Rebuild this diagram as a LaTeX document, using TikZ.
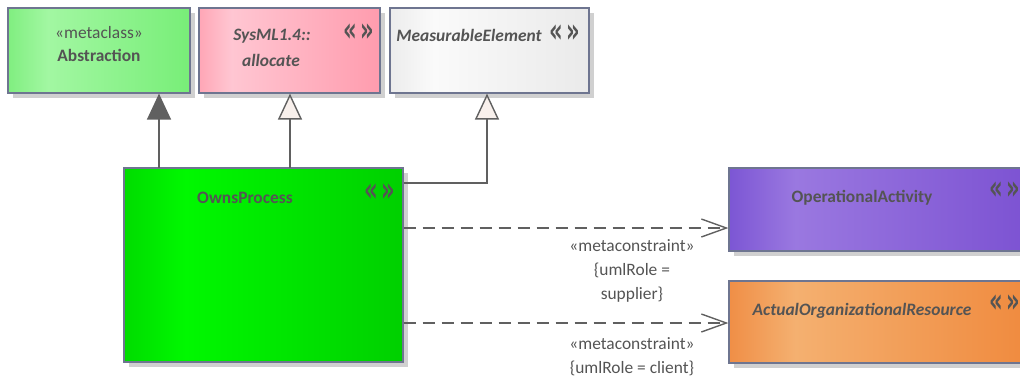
\documentclass[tikz,border=0pt]{standalone}
\usepackage{fontspec}
\usepackage{graphicx}
\setmainfont{Carlito}
\newfontfamily\iconf{DejaVu Sans}
\usetikzlibrary{arrows.meta,shadows}
\definecolor{txt}{HTML}{545454}
\definecolor{bord}{HTML}{6E7590}
\definecolor{ln}{HTML}{606060}
\definecolor{shd}{HTML}{D0D0D0}
\pgfdeclarehorizontalshading{gAbs}{100bp}{color(0bp)=(rgb,255:red,128;green,238;blue,128); color(25bp)=(rgb,255:red,128;green,238;blue,128); color(36bp)=(rgb,255:red,162;green,247;blue,162); color(75bp)=(rgb,255:red,120;green,238;blue,120); color(100bp)=(rgb,255:red,120;green,238;blue,120)}
\pgfdeclarehorizontalshading{gAll}{100bp}{color(0bp)=(rgb,255:red,255;green,166;blue,182); color(25bp)=(rgb,255:red,255;green,166;blue,182); color(34bp)=(rgb,255:red,255;green,198;blue,210); color(75bp)=(rgb,255:red,255;green,156;blue,174); color(100bp)=(rgb,255:red,255;green,156;blue,174)}
\pgfdeclarehorizontalshading{gMea}{100bp}{color(0bp)=(rgb,255:red,236;green,236;blue,236); color(25bp)=(rgb,255:red,236;green,236;blue,236); color(36bp)=(rgb,255:red,250;green,250;blue,250); color(75bp)=(rgb,255:red,234;green,234;blue,234); color(100bp)=(rgb,255:red,234;green,234;blue,234)}
\pgfdeclarehorizontalshading{gOwn}{100bp}{color(0bp)=(rgb,255:red,0;green,220;blue,0); color(25bp)=(rgb,255:red,0;green,220;blue,0); color(36bp)=(rgb,255:red,0;green,248;blue,0); color(75bp)=(rgb,255:red,0;green,208;blue,0); color(100bp)=(rgb,255:red,0;green,208;blue,0)}
\pgfdeclarehorizontalshading{gOp}{100bp}{color(0bp)=(rgb,255:red,124;green,86;blue,212); color(25bp)=(rgb,255:red,124;green,86;blue,212); color(36bp)=(rgb,255:red,154;green,120;blue,224); color(75bp)=(rgb,255:red,124;green,82;blue,210); color(100bp)=(rgb,255:red,124;green,82;blue,210)}
\pgfdeclarehorizontalshading{gAct}{100bp}{color(0bp)=(rgb,255:red,240;green,142;blue,70); color(25bp)=(rgb,255:red,240;green,142;blue,70); color(36bp)=(rgb,255:red,244;green,176;blue,112); color(75bp)=(rgb,255:red,240;green,138;blue,62); color(100bp)=(rgb,255:red,240;green,138;blue,62)}
\newcommand{\stereoicon}{\scalebox{0.62}[1]{\iconf\fontsize{34}{34}\selectfont\bfseries «\hspace{6pt}»}}
\tikzset{
  box/.style={draw=bord, line width=1.2pt, rectangle, inner sep=0pt,
    drop shadow={shadow xshift=5pt, shadow yshift=-5pt, fill=shd, opacity=1}},
  lbl/.style={text=txt, font=\fontsize{17.4}{20}\selectfont, inner sep=0pt},
  blbl/.style={lbl, font=\fontsize{17.4}{20}\selectfont\bfseries},
  ilbl/.style={lbl, font=\fontsize{17.4}{20}\selectfont\bfseries\itshape},
  icon/.style={text=txt, inner sep=0pt},
  genfill/.style={draw=ln, line width=1.4pt, -{Triangle[width=24pt,length=26pt,fill=ln]}},
  genopen/.style={draw=ln, line width=1.4pt, -{Triangle[width=24pt,length=26pt,open,fill={rgb,255:red,248;green,240;blue,236}]}},
  dep/.style={draw=ln, line width=1.4pt, dash pattern=on 12pt off 7pt, -{Straight Barb[length=25pt,width=18pt]}},
  clbl/.style={lbl, align=center, font=\fontsize{17.4}{24}\selectfont},
}
\begin{document}
\begin{tikzpicture}[x=1pt,y=-1pt]
\useasboundingbox (0,0) rectangle (1020,376);
% boxes
\node[box, shading=gAbs, minimum width=182pt, minimum height=85pt] (abs) at (99,50.5) {};
\node[box, shading=gAll, minimum width=181pt, minimum height=85pt] (alloc) at (289.5,50.5) {};
\node[box, shading=gMea, minimum width=199pt, minimum height=85pt] (meas) at (489.5,50.5) {};
\node[box, shading=gOwn, minimum width=279pt, minimum height=194pt] (own) at (263.5,265) {};
\node[box, shading=gOp, minimum width=301pt, minimum height=83pt] (op) at (879.5,209.5) {};
\node[box, shading=gAct, minimum width=301pt, minimum height=82pt] (act) at (879.5,322) {};
% texts
\node[lbl] (absS) at (99,33) {«metaclass»};
\node[blbl] (absN) at (99,55) {Abstraction};
\node[ilbl] (allS) at (272,36) {SysML1.4::};
\node[ilbl] (allN) at (271,60) {allocate};
\node[icon] (allI) at (358.5,33) {\stereoicon};
\node[ilbl] (meaN) at (469,35) {MeasurableElement};
\node[icon] (meaI) at (565,34) {\stereoicon};
\node[blbl] (ownN) at (245,198) {OwnsProcess};
\node[icon] (ownI) at (380,193) {\stereoicon};
\node[blbl] (opN) at (862,198) {OperationalActivity};
\node[icon] (opI) at (1005,191) {\stereoicon};
\node[ilbl] (actN) at (862,311) {ActualOrganizationalResource};
\node[icon] (actI) at (1005,304) {\stereoicon};
% connectors
\coordinate (g1) at (159,168);
\coordinate (g2) at (290,168);
\coordinate (g3) at (487,183);
\draw[genfill] (g1) -- (g1 |- abs.south);
\draw[genopen] (g2) -- (g2 |- alloc.south);
\draw[genopen] (own.east |- g3) -- (g3) -- (g3 |- meas.south);
\coordinate (d1) at (0,228);
\coordinate (d2) at (0,323);
\draw[dep] (own.east |- d1) -- (op.west |- d1);
\draw[dep] (own.east |- d2) -- (act.west |- d2);
\node[clbl, anchor=north] (c1) at (632,239) {«metaconstraint»\\\{umlRole =\\supplier\}};
\node[clbl, anchor=north] (c2) at (632,337) {«metaconstraint»\\\{umlRole = client\}};
\end{tikzpicture}
\end{document}
